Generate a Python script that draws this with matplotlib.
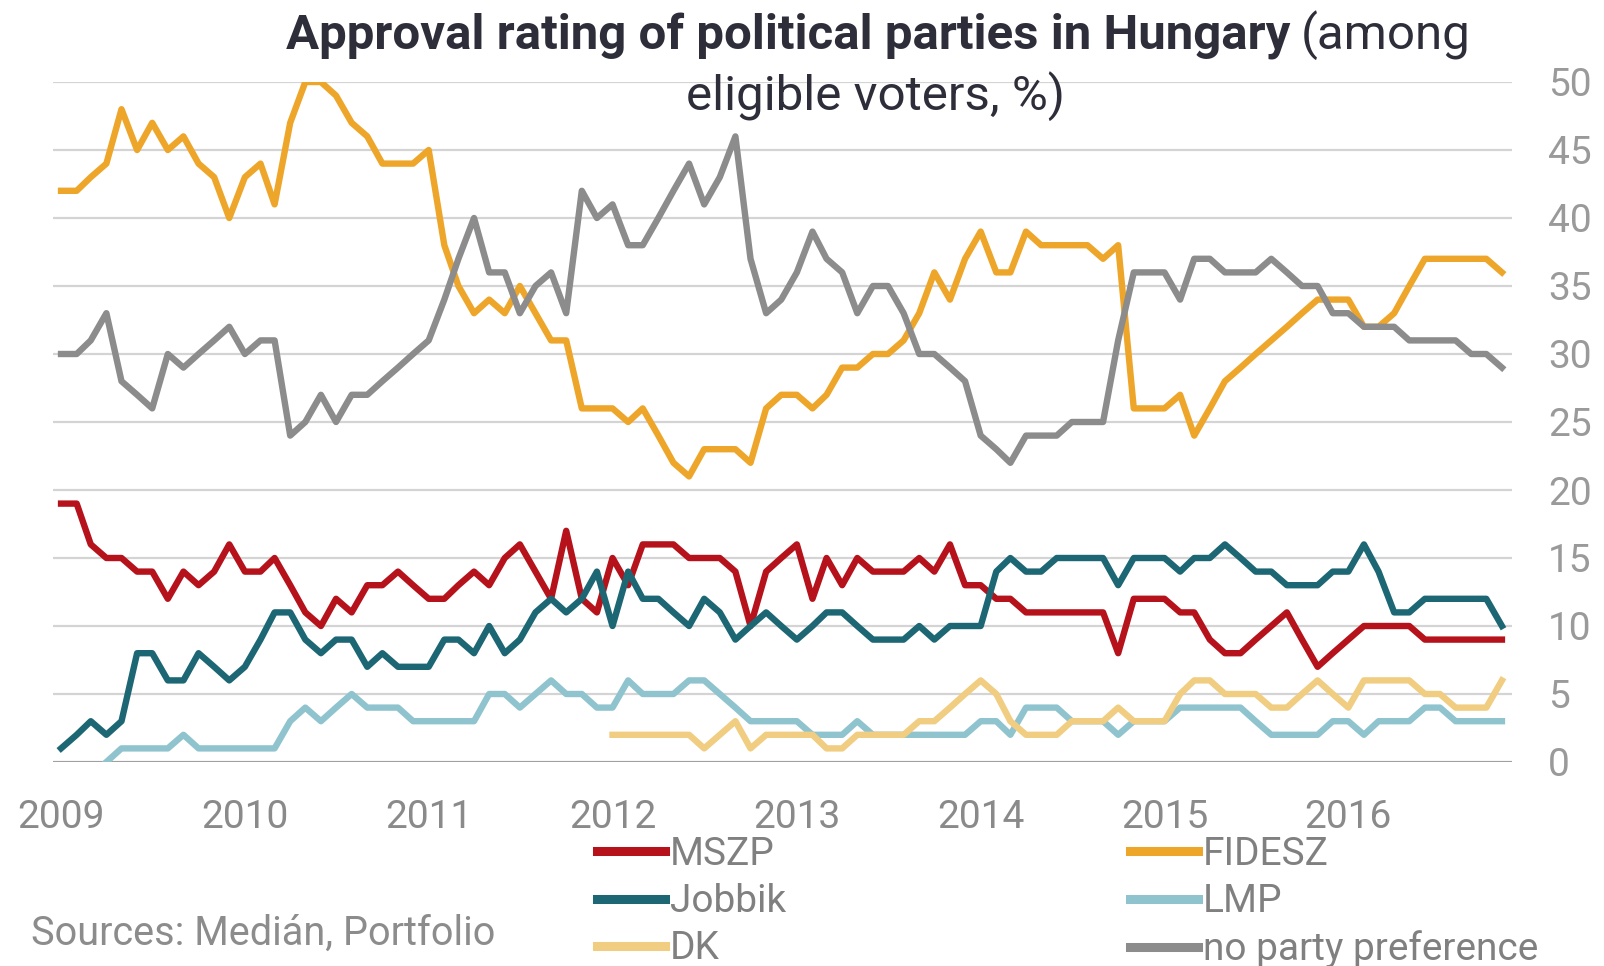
import numpy as np
import pandas as pd
import matplotlib
matplotlib.use('Agg')
import matplotlib.pyplot as plt

plt.rcParams['font.family'] = ['Roboto', 'DejaVu Sans']

# monthly readings, Jan 2009 .. Nov 2016
months = pd.date_range('2009-01-01', periods=95, freq='MS')

mszp = [19,19,16,15,15,14,14,12,14,13,14,16,
        14,14,15,13,11,10,12,11,13,13,14,13,
        12,12,13,14,13,15,16,14,12,17,12,11,
        15,13,16,16,16,15,15,15,14,10,14,15,
        16,12,15,13,15,14,14,14,15,14,16,13,
        13,12,12,11,11,11,11,11,11,8,12,12,
        12,11,11,9,8,8,9,10,11,9,7,8,
        9,10,10,10,10,9,9,9,9,9,9]
fidesz = [42,42,43,44,48,45,47,45,46,44,43,40,
          43,44,41,47,50,50,49,47,46,44,44,44,
          45,38,35,33,34,33,35,33,31,31,26,26,
          26,25,26,24,22,21,23,23,23,22,26,27,
          27,26,27,29,29,30,30,31,33,36,34,37,
          39,36,36,39,38,38,38,38,37,38,26,26,
          26,27,24,26,28,29,30,31,32,33,34,34,
          34,32,32,33,35,37,37,37,37,37,36]
jobbik = [1,2,3,2,3,8,8,6,6,8,7,6,
          7,9,11,11,9,8,9,9,7,8,7,7,
          7,9,9,8,10,8,9,11,12,11,12,14,
          10,14,12,12,11,10,12,11,9,10,11,10,
          9,10,11,11,10,9,9,9,10,9,10,10,
          10,14,15,14,14,15,15,15,15,13,15,15,
          15,14,15,15,16,15,14,14,13,13,13,14,
          14,16,14,11,11,12,12,12,12,12,10]
nopref = [30,30,31,33,28,27,26,30,29,30,31,32,
          30,31,31,24,25,27,25,27,27,28,29,30,
          31,34,37,40,36,36,33,35,36,33,42,40,
          41,38,38,40,42,44,41,43,46,37,33,34,
          36,39,37,36,33,35,35,33,30,30,29,28,
          24,23,22,24,24,24,25,25,25,31,36,36,
          36,34,37,37,36,36,36,37,36,35,35,33,
          33,32,32,32,31,31,31,31,30,30,29]
# LMP starts Apr 2009, DK starts Jan 2012
lmp = [0,1,1,1,1,2,1,1,1,
       1,1,1,3,4,3,4,5,4,4,4,3,
       3,3,3,3,5,5,4,5,6,5,5,4,
       4,6,5,5,5,6,6,5,4,3,3,3,
       3,2,2,2,3,2,2,2,2,2,2,2,
       3,3,2,4,4,4,3,3,3,2,3,3,
       3,4,4,4,4,4,3,2,2,2,2,3,
       3,2,3,3,3,4,4,3,3,3,3]
dk = [2,2,2,2,2,2,1,2,3,1,2,2,
      2,2,1,1,2,2,2,2,3,3,4,5,
      6,5,3,2,2,2,3,3,3,4,3,3,
      3,5,6,6,5,5,5,4,4,5,6,5,
      4,6,6,6,6,5,5,4,4,4,6]
lmp_months = months[3:]
dk_months = months[36:]

years = list(range(2009, 2017))

W, H = 1604, 966
fig = plt.figure(figsize=(W/100, H/100), dpi=100)
ax = fig.add_axes([53/W, 1-762/H, (1512-53)/W, (762-82)/H])

lw = 4.6
l_mszp, = ax.plot(months, mszp, color='#b5121b', lw=lw, solid_joinstyle='round', label='MSZP')
l_fid, = ax.plot(months, fidesz, color='#eea62a', lw=lw, solid_joinstyle='round', label='FIDESZ')
l_job, = ax.plot(months, jobbik, color='#1d6674', lw=lw, solid_joinstyle='round', label='Jobbik')
l_lmp, = ax.plot(lmp_months, lmp, color='#8fc4cf', lw=lw, solid_joinstyle='round', label='LMP')
l_dk, = ax.plot(dk_months, dk, color='#f0cd80', lw=lw, solid_joinstyle='round', label='DK')
l_np, = ax.plot(months, nopref, color='#8c8c8c', lw=lw, solid_joinstyle='round', label='no party preference')

ax.set_ylim(0, 50)
ax.set_yticks(range(0, 51, 5))
ax.set_xlim(pd.Timestamp('2008-12-16'), pd.Timestamp('2016-11-21'))
ax.set_xticks([pd.Timestamp(f'{y}-01-01') for y in years])
ax.set_xticklabels([str(y) for y in years])

ax.grid(axis='y', color='#d4d4d4', lw=1.6)
ax.set_axisbelow(True)
ax.axhline(0, color='#a0a0a0', lw=2.2, zorder=1)
for s in ax.spines.values():
    s.set_visible(False)
ax.yaxis.tick_right()
ax.tick_params(axis='y', length=0, pad=26, labelsize=28, labelcolor='#9a9a9a')
ax.tick_params(axis='x', length=0, pad=27, labelsize=28, labelcolor='#8a8a8a')

# title: bold part + regular part
r = fig.canvas.get_renderer()
t1 = fig.text(286/W, 1-49/H, 'Approval rating of political parties in Hungary',
              fontsize=35.5, fontweight='bold', color='#2e2e3a', va='baseline', ha='left')
bb = t1.get_window_extent(r)
fig.text(bb.x1/W + 10/W, 1-49/H, '(among', fontsize=35.5, color='#2e2e3a',
         va='baseline', ha='left')
fig.text(876/W, 1-110/H, 'eligible voters, %)', fontsize=35.5, color='#2e2e3a',
         va='baseline', ha='center')

fig.text(31/W, 1-945/H, 'Sources: Medián, Portfolio', fontsize=28.5, color='#8c8c8c',
         va='baseline', ha='left')

leg = fig.legend(handles=[l_mszp, l_job, l_dk, l_fid, l_lmp, l_np], ncol=2,
                 loc='upper left', bbox_to_anchor=(597/W, 1-836/H), frameon=False,
                 fontsize=28, labelcolor='#808080', handlelength=1.75,
                 handletextpad=0.12, columnspacing=8.85, labelspacing=0.26,
                 borderpad=0, borderaxespad=0)
for h in leg.legend_handles:
    h.set_linewidth(6.5)

fig.savefig('out.png', dpi=100)
